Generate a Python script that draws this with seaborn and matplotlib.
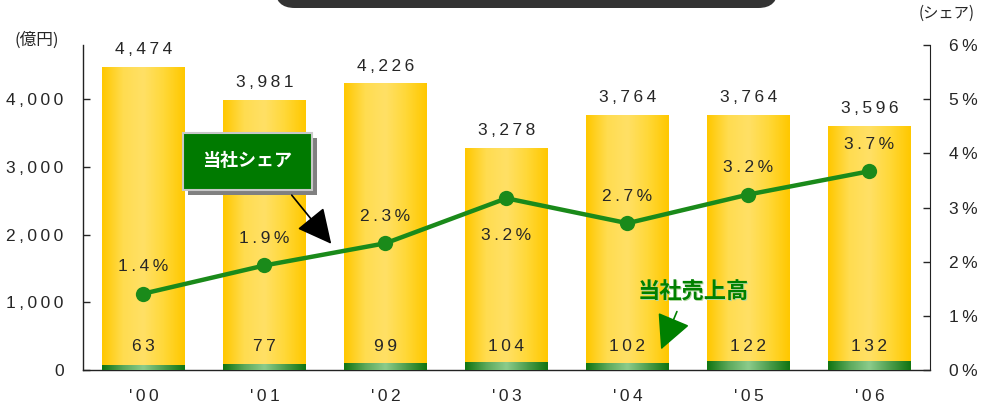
import numpy as np
import matplotlib.pyplot as plt
import seaborn as sns
from matplotlib.patches import Rectangle, FancyBboxPatch, FancyArrowPatch
from matplotlib.colors import LinearSegmentedColormap

years = ["'00", "'01", "'02", "'03", "'04", "'05", "'06"]
market = [4474, 3981, 4226, 3278, 3764, 3764, 3596]
sales = [63, 77, 99, 104, 102, 122, 132]
share = [1.41, 1.93, 2.34, 3.17, 2.71, 3.24, 3.67]
share_labels = ["1.4%", "1.9%", "2.3%", "3.2%", "2.7%", "3.2%", "3.7%"]

sns.set_style("white")
plt.rcParams['font.family'] = ['Liberation Sans', 'DejaVu Sans']
jp = ['Noto Sans CJK JP', 'DejaVu Sans']
num = ['Liberation Sans', 'DejaVu Sans']


def sp(s):
    return "\u2009".join(s)


W, H = 982, 407
fig = plt.figure(figsize=(W / 100, H / 100), dpi=100)
ax = fig.add_axes([83 / W, 1 - 370 / H, (930 - 83) / W, (370 - 45) / H])

sns.barplot(x=years, y=market, color="#ffd21e", width=0.68, ax=ax,
            linewidth=0, zorder=2)
n_yellow = len(ax.patches)
sns.barplot(x=years, y=sales, color="#2e8b2e", width=0.68, ax=ax,
            linewidth=0, zorder=3)

# gradients on bars
ycmap = LinearSegmentedColormap.from_list(
    "y", ["#ffc800", "#ffdc50", "#ffe066", "#ffd838", "#ffc800"])
gcmap = LinearSegmentedColormap.from_list(
    "g", ["#127512", "#5aa85a", "#8ccc8c", "#4e9e4e", "#127512"])
grad = np.linspace(0, 1, 64).reshape(1, -1)
for i, p in enumerate(ax.patches):
    x0, y0 = p.get_x(), p.get_y()
    w, h = p.get_width(), p.get_height()
    cm = ycmap if i < n_yellow else gcmap
    ax.imshow(grad, cmap=cm, aspect="auto", extent=(x0, x0 + w, y0, y0 + h),
              zorder=2.5 if i < n_yellow else 3.5, interpolation="bilinear")
    p.set_alpha(0)

ax.set_xlim(-0.5, 6.5)
ax.set_ylim(0, 4800)
ax.set_yticks([0, 1000, 2000, 3000, 4000])
ax.set_yticklabels([sp(f"{v:,}") for v in [0, 1000, 2000, 3000, 4000]],
                   fontsize=12.5, family=num)
ax.set_xticks(range(len(years)))
ax.set_xticklabels([sp(y) for y in years], fontsize=12.5, family=num)
ax.set_xticks(np.arange(0.5, 6, 1), minor=True)
ax.tick_params(axis="x", which="major", length=0, pad=14)
ax.tick_params(axis="x", which="minor", direction="in", length=5, width=1)
ax.tick_params(axis="y", direction="in", length=5, width=1, pad=14, left=True)
ax.set_xlabel("")
for s in ["left", "bottom"]:
    ax.spines[s].set_color("#222222")
    ax.spines[s].set_linewidth(1)
ax.spines["top"].set_visible(False)
ax.spines["right"].set_visible(False)

for i, v in enumerate(market):
    ax.text(i, v + 150, sp(f"{v:,}"), ha="center", va="bottom",
            fontsize=12.5, family=num, zorder=5)
for i, v in enumerate(sales):
    ax.text(i, 340, sp(str(v)), ha="center", va="center",
            fontsize=12.5, family=num, zorder=5)

ax2 = ax.twinx()
sns.lineplot(x=np.arange(len(years)), y=share, ax=ax2, color="#1a8a1a",
             linewidth=3.2, marker="o", markersize=11, markeredgewidth=0,
             zorder=6)
ax2.set_ylim(0, 6)
ax2.set_yticks(range(7))
ax2.set_yticklabels([sp(f"{v}%") for v in range(7)], fontsize=12.5,
                    family=num)
ax2.tick_params(axis="y", direction="in", length=5, width=1, pad=14, right=True)
ax2.spines["right"].set_color("#222222")
for s in ["left", "top", "bottom"]:
    ax2.spines[s].set_visible(False)
ax2.set_xlim(-0.5, 6.5)

offsets = [0.5, 0.5, 0.5, -0.68, 0.5, 0.5, 0.5]
for i, (v, lab) in enumerate(zip(share, share_labels)):
    ax2.text(i, v + offsets[i], sp(lab), ha="center", va="center",
             fontsize=12.5, family=num, zorder=7)

# axis unit labels
fig.text(15 / W, 1 - 40 / H, "(億円)", fontsize=12, family=jp, va="center")
fig.text(919 / W, 1 - 13 / H, "(シェア)", fontsize=11, family=jp, va="center")

# title bar (cut off)
fig.add_artist(FancyBboxPatch((275 / W, 1 - 8 / H), 503 / W, 30 / H,
                              boxstyle="round,pad=0,rounding_size=0.02",
                              transform=fig.transFigure, facecolor="#333333",
                              edgecolor="none", mutation_aspect=W / H))

# 当社シェア callout
fig.add_artist(Rectangle((188 / W, 1 - 195 / H), 129 / W, 57 / H,
                         transform=fig.transFigure, facecolor="#808080",
                         edgecolor="none", zorder=8))
fig.add_artist(Rectangle((183 / W, 1 - 190 / H), 129 / W, 57 / H,
                         transform=fig.transFigure, facecolor="#007a00",
                         edgecolor="#c8c8c8", linewidth=1.5, zorder=9))
fig.text(247 / W, 1 - 161 / H, "当社シェア", fontsize=13, family=jp,
         weight="bold", color="white", ha="center", va="center", zorder=10)
fig.add_artist(FancyArrowPatch((290 / W, 1 - 193 / H), (333 / W, 1 - 246 / H),
                               transform=fig.transFigure,
                               arrowstyle="-|>,head_length=1.2,head_width=0.6",
                               mutation_scale=18, color="black",
                               linewidth=1.2, zorder=10))

# 当社売上高 callout
fig.text(693 / W + 1 / W, 1 - 292 / H - 1 / H, "当社売上高", fontsize=16,
         family=jp, weight="bold", color="#b0d8a0", ha="center", va="center",
         zorder=9)
fig.text(693 / W, 1 - 292 / H, "当社売上高", fontsize=16, family=jp,
         weight="bold", color="#008000", ha="center", va="center", zorder=10)
fig.add_artist(FancyArrowPatch((678 / W, 1 - 309 / H), (660 / W, 1 - 352 / H),
                               transform=fig.transFigure,
                               arrowstyle="-|>,head_length=1.2,head_width=0.6",
                               mutation_scale=18, color="#008000",
                               linewidth=1.2, zorder=10))

fig.savefig("out.png", dpi=100)
